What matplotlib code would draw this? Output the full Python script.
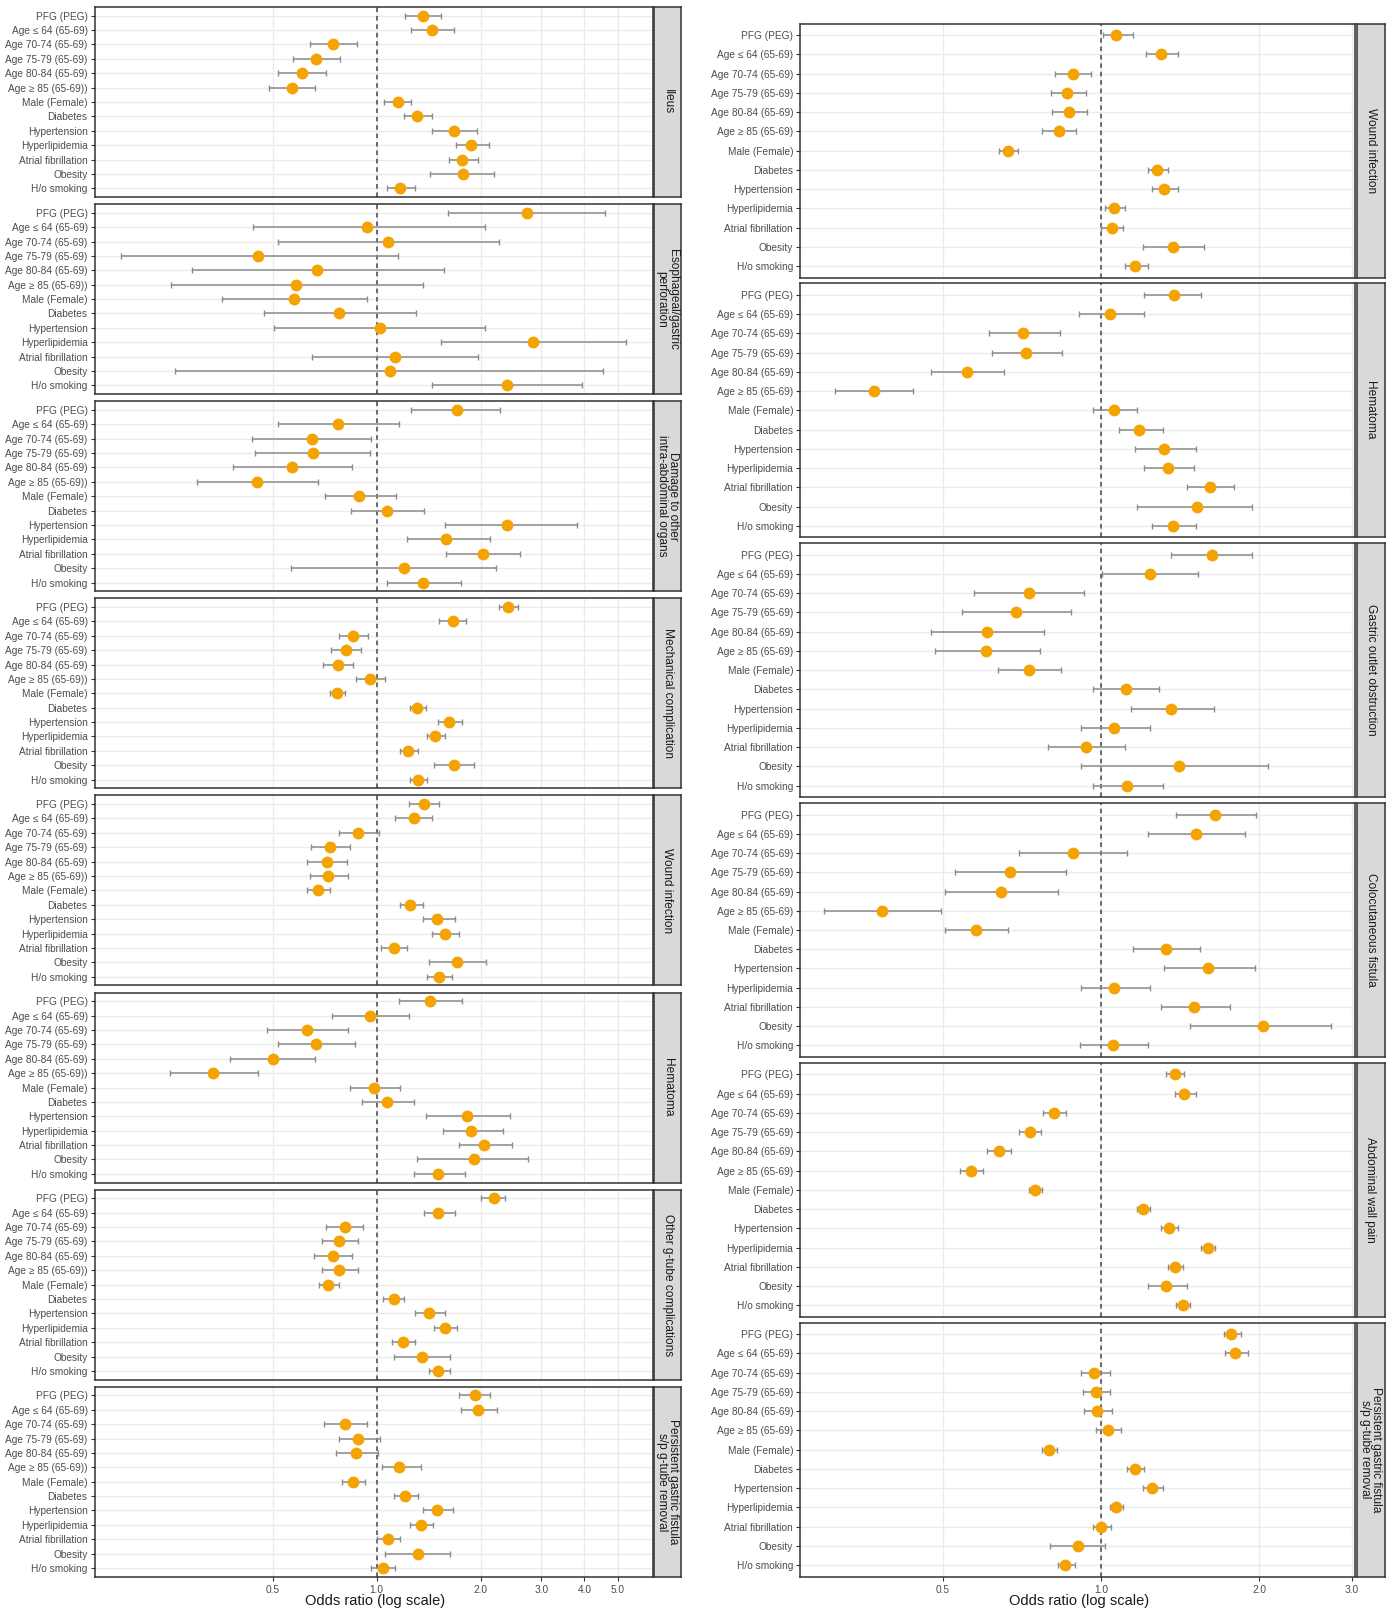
import matplotlib
matplotlib.use("Agg")
import matplotlib.pyplot as plt
import numpy as np

plt.rcParams['font.family'] = ['Liberation Sans', 'DejaVu Sans']
LABEL_SIZE = 7.3

# row labels (top to bottom)
rows_left = ["PFG (PEG)", "Age \u2264 64 (65-69)", "Age 70-74 (65-69)", "Age 75-79 (65-69)",
             "Age 80-84 (65-69)", "Age \u2265 85 (65-69))", "Male (Female)", "Diabetes",
             "Hypertension", "Hyperlipidemia", "Atrial fibrillation", "Obesity", "H/o smoking"]
rows_right = ["PFG (PEG)", "Age \u2264 64 (65-69)", "Age 70-74 (65-69)", "Age 75-79 (65-69)",
              "Age 80-84 (65-69)", "Age \u2265 85 (65-69)", "Male (Female)", "Diabetes",
              "Hypertension", "Hyperlipidemia", "Atrial fibrillation", "Obesity", "H/o smoking"]

# ---- left column ----
ileus_or = [1.36, 1.45, 0.745, 0.666, 0.606, 0.567, 1.15, 1.31, 1.67, 1.88, 1.77, 1.78, 1.17]
ileus_lo = [1.21, 1.26, 0.639, 0.571, 0.516, 0.487, 1.05, 1.20, 1.45, 1.70, 1.62, 1.43, 1.07]
ileus_hi = [1.54, 1.68, 0.875, 0.784, 0.713, 0.664, 1.26, 1.45, 1.95, 2.11, 1.96, 2.19, 1.29]

perf_or = [2.72, 0.94, 1.08, 0.453, 0.670, 0.582, 0.576, 0.775, 1.02, 2.84, 1.13, 1.09, 2.39]
perf_lo = [1.61, 0.438, 0.519, 0.181, 0.291, 0.254, 0.357, 0.470, 0.504, 1.54, 0.648, 0.261, 1.45]
perf_hi = [4.59, 2.06, 2.26, 1.15, 1.57, 1.36, 0.94, 1.30, 2.06, 5.27, 1.97, 4.54, 3.94]

damage_or = [1.71, 0.770, 0.650, 0.652, 0.567, 0.451, 0.891, 1.07, 2.39, 1.59, 2.03, 1.20, 1.36]
damage_lo = [1.26, 0.516, 0.436, 0.445, 0.383, 0.302, 0.709, 0.842, 1.58, 1.22, 1.59, 0.566, 1.07]
damage_hi = [2.28, 1.16, 0.965, 0.959, 0.847, 0.674, 1.14, 1.37, 3.80, 2.13, 2.61, 2.22, 1.75]

mech_or = [2.40, 1.66, 0.852, 0.812, 0.770, 0.956, 0.766, 1.31, 1.62, 1.48, 1.23, 1.68, 1.32]
mech_lo = [2.26, 1.52, 0.775, 0.739, 0.700, 0.872, 0.730, 1.25, 1.51, 1.40, 1.17, 1.47, 1.25]
mech_hi = [2.56, 1.82, 0.945, 0.899, 0.855, 1.055, 0.808, 1.39, 1.77, 1.58, 1.32, 1.92, 1.40]

wound_l_or = [1.37, 1.28, 0.883, 0.730, 0.717, 0.721, 0.676, 1.25, 1.50, 1.58, 1.12, 1.71, 1.52]
wound_l_lo = [1.24, 1.13, 0.779, 0.643, 0.627, 0.639, 0.629, 1.17, 1.36, 1.45, 1.03, 1.42, 1.40]
wound_l_hi = [1.52, 1.45, 1.015, 0.839, 0.820, 0.827, 0.730, 1.36, 1.69, 1.73, 1.22, 2.07, 1.65]

hema_l_or = [1.43, 0.956, 0.627, 0.666, 0.50, 0.336, 0.985, 1.07, 1.83, 1.88, 2.05, 1.92, 1.51]
hema_l_lo = [1.16, 0.741, 0.482, 0.516, 0.376, 0.251, 0.837, 0.907, 1.39, 1.56, 1.73, 1.31, 1.28]
hema_l_hi = [1.77, 1.24, 0.827, 0.867, 0.664, 0.454, 1.17, 1.28, 2.44, 2.32, 2.46, 2.74, 1.80]

other_or = [2.18, 1.51, 0.808, 0.779, 0.745, 0.779, 0.724, 1.12, 1.42, 1.58, 1.19, 1.35, 1.51]
other_lo = [2.01, 1.37, 0.715, 0.692, 0.660, 0.696, 0.678, 1.04, 1.29, 1.47, 1.11, 1.12, 1.42]
other_hi = [2.36, 1.69, 0.912, 0.883, 0.847, 0.880, 0.775, 1.20, 1.58, 1.71, 1.29, 1.63, 1.63]

fist_l_or = [1.93, 1.96, 0.808, 0.884, 0.872, 1.16, 0.854, 1.21, 1.50, 1.34, 1.08, 1.32, 1.04]
fist_l_lo = [1.73, 1.76, 0.705, 0.776, 0.760, 1.035, 0.792, 1.12, 1.36, 1.25, 1.00, 1.06, 0.962]
fist_l_hi = [2.13, 2.23, 0.940, 1.02, 1.007, 1.34, 0.927, 1.32, 1.66, 1.46, 1.17, 1.63, 1.13]

# ---- right column ----
wound_r_or = [1.07, 1.30, 0.885, 0.863, 0.871, 0.832, 0.666, 1.28, 1.32, 1.06, 1.05, 1.37, 1.16]
wound_r_lo = [1.01, 1.22, 0.819, 0.804, 0.809, 0.774, 0.640, 1.23, 1.25, 1.02, 1.00, 1.20, 1.11]
wound_r_hi = [1.15, 1.40, 0.958, 0.936, 0.942, 0.895, 0.695, 1.34, 1.40, 1.11, 1.10, 1.57, 1.23]

hema_r_or = [1.375, 1.04, 0.712, 0.722, 0.556, 0.370, 1.06, 1.18, 1.32, 1.34, 1.615, 1.52, 1.37]
hema_r_lo = [1.21, 0.907, 0.612, 0.621, 0.475, 0.313, 0.968, 1.08, 1.16, 1.21, 1.46, 1.17, 1.25]
hema_r_hi = [1.55, 1.205, 0.835, 0.843, 0.655, 0.440, 1.17, 1.31, 1.515, 1.50, 1.79, 1.94, 1.515]

outlet_or = [1.625, 1.24, 0.729, 0.689, 0.608, 0.605, 0.729, 1.115, 1.36, 1.06, 0.938, 1.41, 1.12]
outlet_lo = [1.36, 1.004, 0.574, 0.545, 0.476, 0.483, 0.637, 0.968, 1.14, 0.918, 0.794, 0.915, 0.968]
outlet_hi = [1.94, 1.53, 0.929, 0.878, 0.778, 0.765, 0.838, 1.29, 1.64, 1.24, 1.11, 2.08, 1.31]

colo_or = [1.65, 1.515, 0.885, 0.673, 0.646, 0.383, 0.578, 1.33, 1.60, 1.06, 1.50, 2.035, 1.056]
colo_lo = [1.39, 1.23, 0.698, 0.527, 0.506, 0.298, 0.505, 1.15, 1.32, 0.915, 1.30, 1.475, 0.911]
colo_hi = [1.97, 1.88, 1.12, 0.860, 0.827, 0.496, 0.667, 1.54, 1.96, 1.24, 1.76, 2.74, 1.23]

pain_or = [1.38, 1.44, 0.814, 0.733, 0.641, 0.567, 0.750, 1.20, 1.35, 1.60, 1.38, 1.33, 1.43]
pain_lo = [1.33, 1.38, 0.775, 0.698, 0.608, 0.540, 0.730, 1.17, 1.30, 1.55, 1.34, 1.23, 1.39]
pain_hi = [1.44, 1.515, 0.858, 0.769, 0.675, 0.597, 0.774, 1.24, 1.40, 1.65, 1.43, 1.455, 1.475]

fist_r_or = [1.77, 1.80, 0.969, 0.977, 0.981, 1.03, 0.797, 1.16, 1.25, 1.07, 1.00, 0.904, 0.855]
fist_r_lo = [1.71, 1.72, 0.918, 0.925, 0.928, 0.977, 0.773, 1.12, 1.20, 1.04, 0.965, 0.80, 0.829]
fist_r_hi = [1.85, 1.90, 1.04, 1.04, 1.048, 1.094, 0.825, 1.21, 1.31, 1.10, 1.044, 1.02, 0.891]

left_titles = ["Ileus", "Esophageal/gastric\nperforation", "Damage to other\nintra-abdominal organs",
               "Mechanical complication", "Wound infection", "Hematoma",
               "Other g-tube complications", "Persistent gastric fistula\ns/p g-tube removal"]
left_data = [(ileus_or, ileus_lo, ileus_hi), (perf_or, perf_lo, perf_hi),
             (damage_or, damage_lo, damage_hi), (mech_or, mech_lo, mech_hi),
             (wound_l_or, wound_l_lo, wound_l_hi), (hema_l_or, hema_l_lo, hema_l_hi),
             (other_or, other_lo, other_hi), (fist_l_or, fist_l_lo, fist_l_hi)]

right_titles = ["Wound infection", "Hematoma", "Gastric outlet obstruction",
                "Colocutaneous fistula", "Abdominal wall pain",
                "Persistent gastric fistula\ns/p g-tube removal"]
right_data = [(wound_r_or, wound_r_lo, wound_r_hi), (hema_r_or, hema_r_lo, hema_r_hi),
              (outlet_or, outlet_lo, outlet_hi), (colo_or, colo_lo, colo_hi),
              (pain_or, pain_lo, pain_hi), (fist_r_or, fist_r_lo, fist_r_hi)]

left_ticks = [0.5, 1.0, 2.0, 3.0, 4.0, 5.0]
right_ticks = [0.5, 1.0, 2.0, 3.0]

W, H = 1392, 1609
fig = plt.figure(figsize=(W / 100, H / 100), dpi=100)

EDGE = '#333333'
GRID = '#ebebeb'


def px_axes(x0, y0, w, h):
    return fig.add_axes([x0 / W, 1 - (y0 + h) / H, w / W, h / H])


def draw_panel(x0, y0, w, h, strip_w, rows, vals, title, xlim, ticks, bottom):
    ax = px_axes(x0, y0, w, h)
    est, lo, hi = [np.array(v) for v in vals]
    y = np.arange(len(rows))
    ax.set_xscale('log')
    ax.set_xlim(*xlim)
    ax.set_ylim(len(rows) - 0.4, -0.6)
    for t in ticks:
        ax.axvline(t, color=GRID, lw=1, zorder=0)
    for yy in y:
        ax.axhline(yy, color=GRID, lw=1, zorder=0)
    ax.axvline(1.0, color='#444444', lw=1.1, ls=(0, (3, 2.5)), zorder=1)
    ax.errorbar(est, y, xerr=[est - lo, hi - est], fmt='none', ecolor='#8c8c8c',
                elinewidth=1.1, capsize=2.5, capthick=1.0, zorder=2)
    ax.plot(est, y, 'o', color='#f5a300', ms=7.5, mec='#f5a300', zorder=3)
    ax.set_yticks(y)
    ax.set_yticklabels(rows, fontsize=LABEL_SIZE, color='#4d4d4d')
    ax.xaxis.set_minor_locator(matplotlib.ticker.NullLocator())
    ax.set_xticks(ticks)
    ax.set_xticklabels(["%.1f" % t for t in ticks], fontsize=LABEL_SIZE, color='#4d4d4d')
    ax.tick_params(axis='both', colors='#333333', length=3, width=0.8, pad=2)
    ax.tick_params(axis='y', labelcolor='#4d4d4d')
    ax.tick_params(axis='x', labelcolor='#4d4d4d', pad=3)
    if not bottom:
        ax.tick_params(axis='x', length=0, labelbottom=False)
    for s in ax.spines.values():
        s.set_color(EDGE)
        s.set_linewidth(1.1)
    st = px_axes(x0 + w + 1.5, y0, strip_w, h)
    st.set_facecolor('#d9d9d9')
    st.set_xticks([])
    st.set_yticks([])
    for s in st.spines.values():
        s.set_color(EDGE)
        s.set_linewidth(1.1)
    st.text(0.5, 0.5, title, rotation=-90, ha='center', va='center',
            fontsize=8.6, color='#1a1a1a', linespacing=0.95, transform=st.transAxes)
    return ax


# left column
for i, (title, vals) in enumerate(zip(left_titles, left_data)):
    draw_panel(94.5, 7 + 197.1 * i, 558, 190, 27, rows_left, vals, title,
               (0.152, 6.3), left_ticks, i == len(left_titles) - 1)

# right column
for i, (title, vals) in enumerate(zip(right_titles, right_data)):
    draw_panel(800, 23.6 + 259.8 * i, 555, 254, 28, rows_right, vals, title,
               (0.268, 3.04), right_ticks, i == len(right_titles) - 1)

fig.text(375 / W, 1 - 1601 / H, "Odds ratio (log scale)", ha='center', va='center',
         fontsize=10.5, color='#1a1a1a')
fig.text(1079 / W, 1 - 1601 / H, "Odds ratio (log scale)", ha='center', va='center',
         fontsize=10.5, color='#1a1a1a')

fig.savefig("out.png", dpi=100)
